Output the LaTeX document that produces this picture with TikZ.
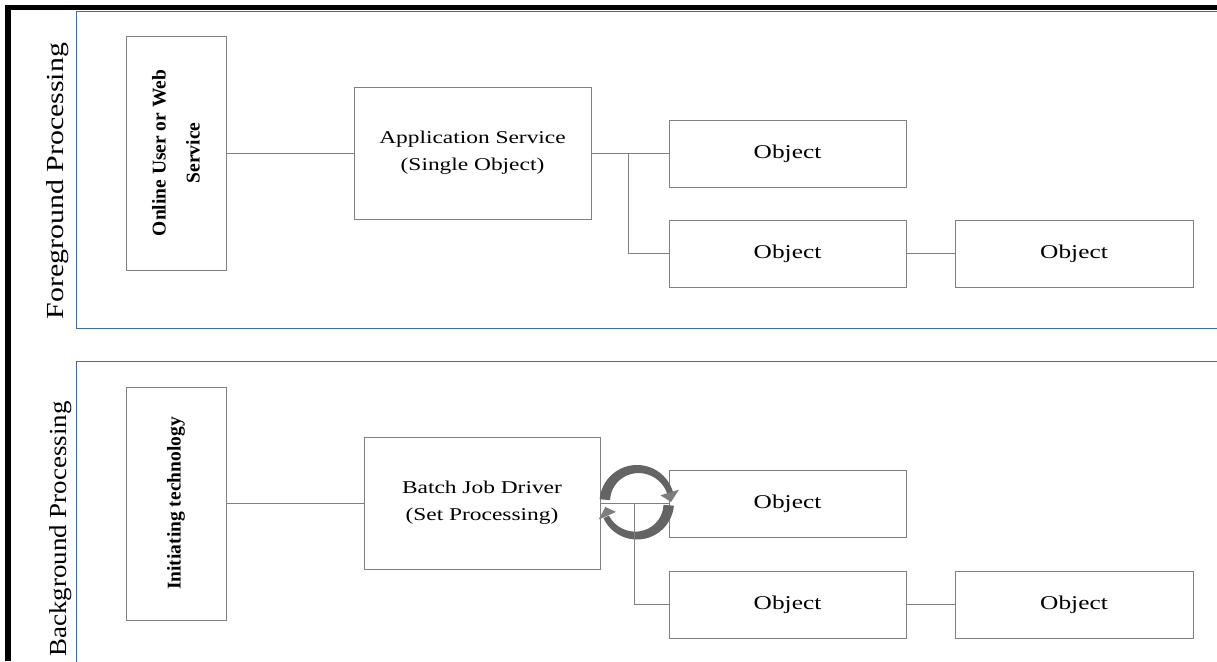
\documentclass[tikz,border=0pt]{standalone}
\usepackage{fontspec}
\setmainfont{Liberation Serif}
\newfontfamily\gar{Liberation Serif}[FakeStretch=1.3]
\newfontfamily\garfg{Liberation Serif}[FakeStretch=1.22]
\newfontfamily\garbg{Liberation Serif}[FakeStretch=1.1]
\definecolor{panelblue}{RGB}{65,105,165}
\definecolor{boxgray}{RGB}{128,128,128}
\definecolor{arcgray}{RGB}{100,100,100}
\definecolor{arcgraylight}{RGB}{125,125,125}
\begin{document}
\begin{tikzpicture}[x=1pt,y=-1pt,
  box/.style={draw=boxgray, line width=0.9pt, inner sep=0pt, align=center},
  objbox/.style={box, minimum width=237pt, minimum height=67pt, font=\gar\fontsize{19.5}{26}\selectfont},
  bigbox/.style={box, minimum width=237pt, minimum height=132pt, font=\gar\fontsize{18}{27}\selectfont},
  sidebox/.style={box, minimum width=100pt, minimum height=234pt},
  sidetext/.style={rotate=90, align=center, font=\bfseries\fontsize{19.5}{34}\selectfont},
  conn/.style={draw=boxgray, line width=0.9pt},
  panel/.style={draw=panelblue, line width=1pt},
  frame/.style={draw=black, line width=5.5pt}]
\useasboundingbox (0,0) rectangle (1217,661);
\clip (0,0) rectangle (1217,661);

% outer frame
\draw[frame] (8,661) -- (8,7.5) -- (1217,7.5);

% panels
\draw[panel] (76.7,11.7) rectangle (1230,328.3);
\draw[panel] (76.7,361.7) rectangle (1230,690);

% side labels
\node[rotate=90, font=\garfg\fontsize{24.5}{28}\selectfont] (fg) at (58,181) {Foreground Processing};
\node[rotate=90, font=\garbg\fontsize{24.5}{28}\selectfont] (bgl) at (61,529) {Background Processing};

% foreground boxes
\node[sidebox] (onl) at (176,153) {};
\node[sidetext] (onlt) at (onl.center) {Online User or Web\\Service};
\node[bigbox] (app) at (472.5,153) {Application Service\\(Single Object)};
\node[objbox] (o1) at (787.5,153.5) {Object};
\node[objbox] (o2) at (787.5,253.5) {Object};
\node[objbox, minimum width=238pt] (o3) at (1074,253.5) {Object};

% background boxes
\node[sidebox, minimum height=233pt] (ini) at (176,503.5) {};
\node[sidetext] (init) at (ini.center) {Initiating technology};
\node[bigbox, minimum width=236pt] (bat) at (482,503) {Batch Job Driver\\(Set Processing)};
\node[objbox] (o4) at (787.5,503.5) {Object};
\node[objbox] (o5) at (787.5,604.5) {Object};
\node[objbox, minimum width=238pt] (o6) at (1074,604.5) {Object};

% cycle arrows
\begin{scope}[shift={(637,502.5)}]
  \fill[arcgray] plot[domain=175:16, samples=50] ({37.5*cos(\x)},{-37.5*sin(\x)})
    -- plot[domain=16:175, samples=50] ({(37.5-(6+4.5*(\x-16)/159))*cos(\x)},{-(37.5-(6+4.5*(\x-16)/159))*sin(\x)}) -- cycle;
  \fill[arcgraylight] (-17:24.5) -- (-17:44) -- (-1:34) -- cycle;
  \fill[arcgray] plot[domain=-5:-155, samples=50] ({37*cos(\x)},{-37*sin(\x)})
    -- plot[domain=-155:-5, samples=50] ({(37-(10.5+4.5*(\x+5)/150))*cos(\x)},{-(37-(10.5+4.5*(\x+5)/150))*sin(\x)}) -- cycle;
  \fill[arcgraylight] (156:23) -- (156:42) -- (172:32) -- cycle;
\end{scope}

% connectors
\coordinate (b1) at (628,153);
\coordinate (b2) at (634,503);
\draw[conn] (onl.east) -- (onl.east -| app.west);
\draw[conn] (app.east) -- (app.east -| o1.west);
\draw[conn] (b1) |- (o2.west);
\draw[conn] (o2.east) -- (o3.west);
\draw[conn] (ini.east |- bat.west) -- (bat.west);
\draw[conn] (bat.east) -- (bat.east -| o4.west);
\draw[conn] (b2) |- (o5.west);
\draw[conn] (o5.east) -- (o6.west);
\end{tikzpicture}
\end{document}
